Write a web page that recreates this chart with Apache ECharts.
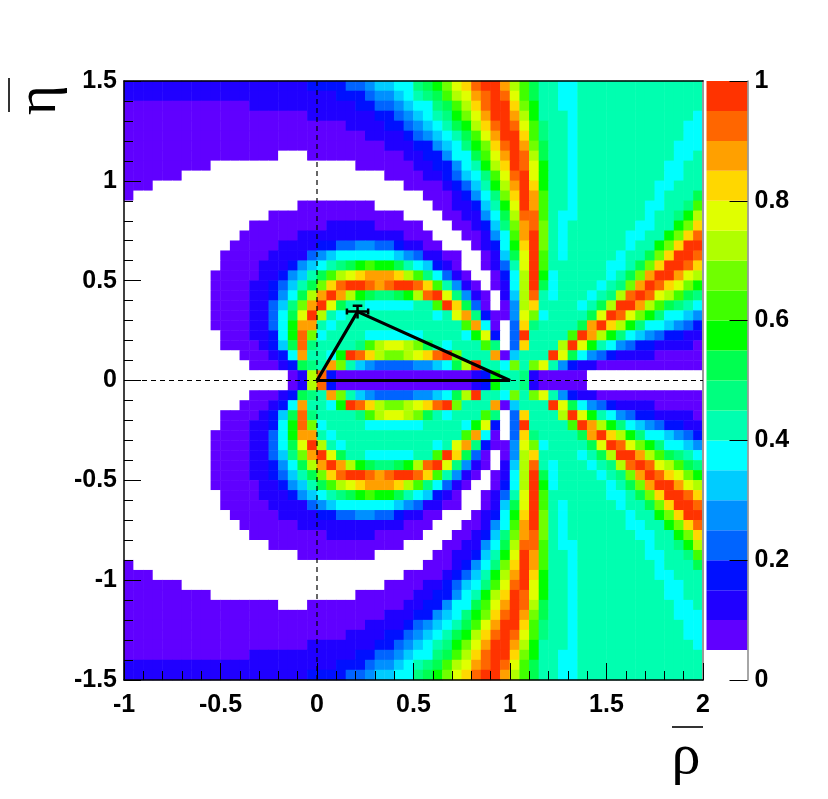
<!DOCTYPE html>
<html>
<head>
<meta charset="utf-8">
<style>
  html, body { margin: 0; padding: 0; background: #fff; }
  #main { width: 828px; height: 799px; }
</style>
<script src="https://cdn.jsdelivr.net/npm/echarts@6/dist/echarts.min.js"></script>
</head>
<body>
<div id="main"></div>
<script>
// band number per cell, 0 = white ... 19 = red, each band is 0.05 wide
// cells are 0.05 x 0.05, rows go from eta = 1.475 down to eta = 0.025, rho from -0.975 to 1.975
// the lower half of the picture is the mirror of this one
var upperRows = [
  [2,2,2,2,2,2,2,2,2,2,2,2,2,2,2,2,2,2,2,3, 3,3,3,4,4,5,6,6,7,7,9,10,11,13,15,16,18,19,19,17, 14,12,10,8,8,7,7,8,8,8,8,8,8,8,8,8,8,8,8,8],
  [2,2,2,2,2,2,2,2,2,2,2,2,2,2,2,2,2,2,2,2, 2,2,3,3,3,4,5,5,6,7,8,9,10,12,14,15,17,18,19,18, 15,12,10,8,8,7,7,8,8,8,8,8,8,8,8,8,8,8,8,8],
  [1,1,1,1,1,1,1,1,1,1,1,1,1,2,2,2,2,2,2,2, 2,2,2,2,3,3,4,4,5,6,7,7,9,10,12,14,16,18,19,19, 16,13,11,8,8,7,7,8,8,8,8,8,8,8,8,8,8,8,8,8],
  [1,1,1,1,1,1,1,1,1,1,1,1,1,1,1,1,1,1,1,2, 2,2,2,2,2,2,3,3,4,5,6,7,8,9,11,13,15,17,19,19, 17,14,11,8,8,8,7,8,8,8,8,8,8,8,8,8,8,8,8,7],
  [1,1,1,1,1,1,1,1,1,1,1,1,1,1,1,1,1,1,1,1, 1,1,1,2,2,2,2,3,3,4,5,6,7,8,10,11,14,16,18,19, 18,15,12,9,8,8,7,8,8,8,8,8,8,8,8,8,8,8,7,7],
  [1,1,1,1,1,1,1,1,1,1,1,1,1,1,1,1,1,1,1,1, 1,1,1,1,1,2,2,2,2,3,4,5,6,7,8,10,12,15,17,19, 19,16,12,9,8,8,7,8,8,8,8,8,8,8,8,8,8,8,7,7],
  [1,1,1,1,1,1,1,1,1,1,1,1,1,1,1,1,1,1,1,1, 1,1,1,1,1,1,1,2,2,2,3,3,5,6,7,9,11,13,16,18, 19,17,13,10,8,8,7,8,8,8,8,8,8,8,8,8,8,7,7,7],
  [1,1,1,1,1,1,1,1,1,1,1,1,1,1,1,1,0,0,0,1, 1,1,1,1,1,1,1,1,1,2,2,3,3,5,7,7,10,12,15,17, 19,18,14,10,8,8,7,8,8,8,8,8,8,8,8,8,8,7,7,8],
  [1,1,1,1,1,1,1,1,1,0,0,0,0,0,0,0,0,0,0,0, 0,0,0,0,1,1,1,1,1,1,2,2,3,3,5,7,8,11,14,16, 19,18,15,11,8,8,7,8,8,8,8,8,8,8,8,8,7,7,8,8],
  [1,1,1,1,1,1,0,0,0,0,0,0,0,0,0,0,0,0,0,0, 0,0,0,0,0,0,0,1,1,1,1,2,2,3,4,6,7,9,12,15, 18,19,15,11,8,8,7,8,8,8,8,8,8,8,8,8,7,7,8,8],
  [1,1,1,0,0,0,0,0,0,0,0,0,0,0,0,0,0,0,0,0, 0,0,0,0,0,0,0,0,0,1,1,1,1,2,3,4,6,8,11,14, 17,19,16,11,8,8,7,8,8,8,8,8,8,8,8,7,7,8,8,8],
  [1,0,0,0,0,0,0,0,0,0,0,0,0,0,0,0,0,0,0,0, 0,0,0,0,0,0,0,0,0,0,0,1,1,1,2,3,5,7,9,13, 16,19,17,12,8,8,7,8,8,8,8,8,8,8,8,7,8,8,8,10],
  [0,0,0,0,0,0,0,0,0,0,0,0,0,0,0,0,0,0,1,1, 1,1,1,1,1,1,0,0,0,0,0,0,1,1,2,2,3,6,8,11, 15,19,17,12,8,8,7,8,8,8,8,8,8,8,7,7,8,8,9,12],
  [0,0,0,0,0,0,0,0,0,0,0,0,0,0,0,1,1,1,1,1, 1,1,1,1,1,1,1,1,1,0,0,0,0,1,1,2,2,5,7,10, 14,18,18,12,8,7,7,8,8,8,8,8,8,8,7,8,8,9,11,14],
  [0,0,0,0,0,0,0,0,0,0,0,0,0,1,1,1,1,1,1,1, 1,2,2,2,2,2,1,1,1,1,1,0,0,0,1,1,2,3,6,9, 13,17,18,13,8,7,8,8,8,8,8,8,8,7,7,8,8,11,13,16],
  [0,0,0,0,0,0,0,0,0,0,0,0,1,1,1,1,1,1,2,2, 2,2,2,2,2,2,2,2,2,1,1,1,0,0,0,1,1,2,5,7, 12,17,19,13,8,7,8,8,8,8,8,8,7,7,8,8,11,13,16,18],
  [0,0,0,0,0,0,0,0,0,0,0,1,1,1,1,1,2,2,2,2, 3,3,4,4,5,5,4,4,3,2,2,1,1,0,0,0,1,2,3,7, 11,16,19,13,8,7,8,8,8,8,8,8,7,8,8,11,13,16,19,19],
  [0,0,0,0,0,0,0,0,0,0,1,1,1,1,1,2,2,2,2,4, 5,6,7,7,7,7,7,7,6,5,4,2,2,1,1,0,0,1,2,6, 10,15,19,12,8,7,8,8,8,8,8,7,8,8,10,13,16,19,19,18],
  [0,0,0,0,0,0,0,0,0,0,1,1,1,1,2,2,2,3,5,6, 7,8,9,10,11,12,11,11,10,8,7,6,3,2,1,0,0,1,2,4, 8,15,19,12,8,8,8,8,8,8,7,7,8,10,13,16,19,19,18,16],
  [0,0,0,0,0,0,0,0,0,1,1,1,1,1,2,2,3,5,6,8, 10,12,14,15,16,17,17,17,16,14,12,9,7,4,2,1,0,0,1,3, 7,14,19,11,7,8,8,8,8,8,7,8,10,13,17,19,19,17,15,14],
  [0,0,0,0,0,0,0,0,0,1,1,1,1,2,2,3,4,6,8,10, 13,16,18,19,19,18,17,18,19,19,18,16,12,8,5,2,1,0,1,2, 7,14,19,10,7,8,8,8,8,7,8,9,13,17,19,18,16,15,13,11],
  [0,0,0,0,0,0,0,0,0,1,1,1,1,2,2,3,5,7,10,14, 17,19,17,14,11,10,9,9,10,11,14,18,19,15,9,5,2,1,0,2, 6,14,18,8,7,8,8,8,7,8,9,14,18,19,18,15,14,12,10,9],
  [0,0,0,0,0,0,0,0,0,1,1,1,1,2,2,4,6,9,13,17, 19,15,10,8,8,7,7,7,7,7,8,8,12,19,16,10,4,1,0,1, 5,14,16,8,8,8,8,7,8,10,14,19,19,17,14,12,10,9,8,7],
  [0,0,0,0,0,0,0,0,0,1,1,1,1,2,2,4,7,10,15,19, 14,8,7,8,8,8,8,8,8,8,8,8,7,8,15,17,9,3,1,1, 5,15,13,7,8,8,8,8,10,15,19,18,15,13,11,9,7,7,6,5],
  [0,0,0,0,0,0,0,0,0,1,1,1,1,2,2,4,7,11,17,17, 8,7,8,8,8,8,8,8,8,8,8,8,8,8,8,12,17,7,1,0, 4,16,9,8,8,8,8,10,17,19,16,14,11,9,7,7,6,5,4,3],
  [0,0,0,0,0,0,0,0,0,0,1,1,1,2,2,3,7,11,18,13, 7,8,8,8,8,7,7,7,7,7,7,8,8,8,8,7,11,15,3,0, 4,19,8,8,8,8,12,19,17,14,11,9,7,6,5,4,3,3,2,2],
  [0,0,0,0,0,0,0,0,0,0,1,1,1,1,2,3,6,10,18,9, 8,8,8,8,9,12,14,15,15,14,13,10,8,7,8,8,8,12,9,0, 4,16,8,8,8,14,19,15,11,8,7,5,4,3,3,2,2,2,2,1],
  [0,0,0,0,0,0,0,0,0,0,0,0,1,1,1,2,3,7,17,8, 8,7,11,19,18,16,14,13,13,14,15,16,18,19,13,8,8,8,17,1, 6,8,8,8,19,15,10,7,5,4,3,2,2,2,2,1,1,1,1,1],
  [0,0,0,0,0,0,0,0,0,0,0,0,0,1,1,1,2,3,10,9, 8,17,13,8,6,5,4,4,4,4,5,5,6,7,10,14,19,8,8,7, 13,8,13,15,8,5,3,2,2,1,1,1,1,1,1,1,1,1,1,1],
  [0,0,0,0,0,0,0,0,0,0,0,0,0,0,0,0,0,1,2,14, 18,3,1,1,1,1,1,1,1,1,1,1,1,1,1,1,2,3,11,8, 8,9,2,1,1,1,1,1,0,0,0,0,0,0,0,0,0,0,0,0]
];

var bandColors = ['#ffffff', '#6000ff', '#2000ff', '#0010ff', '#0064ff', '#0090ff', '#00ccff', '#00ffff', '#00ffb0', '#00ff7f',
  '#00ff50', '#00ff00', '#40ff00', '#70ff00', '#b0ff00', '#e0ff00', '#ffd700', '#ffa000', '#ff6600', '#ff3300'];

var xTicks = { min: -1, max: 2, step: 0.5 };
var yTicks = { min: -1.5, max: 1.5, step: 0.5 };

// triangle and the apex error bars
var triangle = [[0, 0], [0.21, 0.345], [1, 0], [0, 0]];
var apexErrX = [[0.155, 0.345], [0.265, 0.345]];
var apexErrY = [[0.21, 0.31], [0.21, 0.375]];
var capLeft = [[0.155, 0.33], [0.155, 0.36]];
var capRight = [[0.265, 0.33], [0.265, 0.36]];
var capTop = [[0.185, 0.375], [0.235, 0.375]];
var crossV = [[0, -1.5], [0, 1.5]];
var crossH = [[-1, 0], [2, 0]];

// top row first, the lower half is upperRows read backwards
var allRows = upperRows.concat(upperRows.slice().reverse());
var cells = [];
var cols = [];
var rowsIdx = [];
for (var c = 0; c < 60; c++) { cols.push(c); rowsIdx.push(c); }
allRows.forEach(function (row, i) {
  row.forEach(function (band, j) {
    cells.push([j, 59 - i, (band + 0.5) * 0.05]);
  });
});

var pieces = bandColors.map(function (col, i) {
  return { min: i * 0.05, max: (i + 1) * 0.05, color: col };
});

function segLine(data, width, dash) {
  var s = {
    type: 'line', xAxisIndex: 0, yAxisIndex: 0, data: data, showSymbol: false, symbol: 'none',
    silent: true, z: 6, animation: false,
    lineStyle: { color: '#000', width: width }
  };
  if (dash) s.lineStyle.type = dash;
  return s;
}

var labelFont = { fontFamily: 'Liberation Sans', fontWeight: 'bold', fontSize: 25, color: '#000' };

// z below the axis so the colour bar ticks stay on top
var barSeries = bandColors.map(function (col) {
  return {
    type: 'bar', stack: 'bar', xAxisIndex: 2, yAxisIndex: 2, data: [0.05], barWidth: '100%',
    silent: true, animation: false, z: 1, itemStyle: { color: col }
  };
});

var chart = echarts.init(document.getElementById('main'), null, { renderer: 'canvas' });
chart.setOption({
  animation: false,
  backgroundColor: '#fff',
  grid: [
    { left: 124, top: 81, width: 579, height: 599 },
    { left: 706.5, top: 81, width: 41, height: 599 }
  ],
  xAxis: [
    {
      type: 'value', gridIndex: 0, min: xTicks.min, max: xTicks.max, interval: xTicks.step, position: 'bottom', z: 5,
      axisLine: { show: true, onZero: false, lineStyle: { color: '#000', width: 1.5 } },
      axisTick: { show: true, inside: true, length: 17, lineStyle: { color: '#000', width: 1 } },
      minorTick: { show: true, splitNumber: 5, length: 9, lineStyle: { color: '#000', width: 1 } },
      axisLabel: Object.assign({ margin: 13, showMinLabel: true, showMaxLabel: true }, labelFont),
      splitLine: { show: false }
    },
    {
      type: 'category', gridIndex: 0, data: cols, position: 'top', z: 5,
      axisLine: { onZero: false, lineStyle: { color: '#000', width: 1.5 } },
      axisTick: { show: false }, axisLabel: { show: false }, splitLine: { show: false }
    },
    {
      type: 'category', gridIndex: 1, data: [''], position: 'bottom',
      axisLine: { show: false }, axisTick: { show: false }, axisLabel: { show: false }
    }
  ],
  yAxis: [
    {
      type: 'value', gridIndex: 0, min: yTicks.min, max: yTicks.max, interval: yTicks.step, position: 'left', z: 5,
      axisLine: { show: true, onZero: false, lineStyle: { color: '#000', width: 1.5 } },
      axisTick: { show: true, inside: true, length: 17, lineStyle: { color: '#000', width: 1 } },
      minorTick: { show: true, splitNumber: 5, length: 9, lineStyle: { color: '#000', width: 1 } },
      axisLabel: Object.assign({ margin: 7, padding: [4, 0, 0, 0], showMinLabel: true, showMaxLabel: true }, labelFont),
      splitLine: { show: false }
    },
    {
      type: 'category', gridIndex: 0, data: rowsIdx, position: 'right', z: 5,
      axisLine: { onZero: false, lineStyle: { color: '#999', width: 2 } },
      axisTick: { show: false }, axisLabel: { show: false }, splitLine: { show: false }
    },
    {
      type: 'value', gridIndex: 1, min: 0, max: 1, interval: 0.2, position: 'right', z: 5,
      axisLine: { show: true, onZero: false, lineStyle: { color: '#888', width: 1.5 } },
      axisTick: { show: true, inside: true, length: 18, lineStyle: { color: '#000', width: 1 } },
      axisLabel: Object.assign({ margin: 7, padding: [4, 0, 0, 0], showMinLabel: true, showMaxLabel: true }, labelFont),
      splitLine: { show: false }
    }
  ],
  visualMap: {
    show: false, type: 'piecewise', seriesIndex: 0, dimension: 2, pieces: pieces
  },
  series: [
    {
      type: 'heatmap', xAxisIndex: 1, yAxisIndex: 1, data: cells, silent: true, z: 2, progressive: 0, animation: false
    },
    segLine(crossV, 1.2, [5, 4]),
    segLine(crossH, 1.2, [5, 4]),
    segLine(triangle, 3.2),
    segLine(apexErrX, 2.5),
    segLine(apexErrY, 2.5),
    segLine(capLeft, 2.5),
    segLine(capRight, 2.5),
    segLine(capTop, 2.5)
  ].concat(barSeries),
  graphic: [
    { type: 'rect', shape: { x: 672, y: 726, width: 31, height: 2 }, style: { fill: '#333' } },
    { type: 'text', x: 686, y: 758, style: { text: 'ρ', font: '58px "Liberation Serif"', fill: '#000', align: 'center', verticalAlign: 'middle' } },
    { type: 'rect', shape: { x: 8, y: 78, width: 2, height: 34 }, style: { fill: '#333' } },
    { type: 'text', x: 40, y: 100, rotation: Math.PI / 2, style: { text: 'η', font: '58px "Liberation Serif"', fill: '#000', align: 'center', verticalAlign: 'middle' } }
  ]
});
</script>
</body>
</html>
